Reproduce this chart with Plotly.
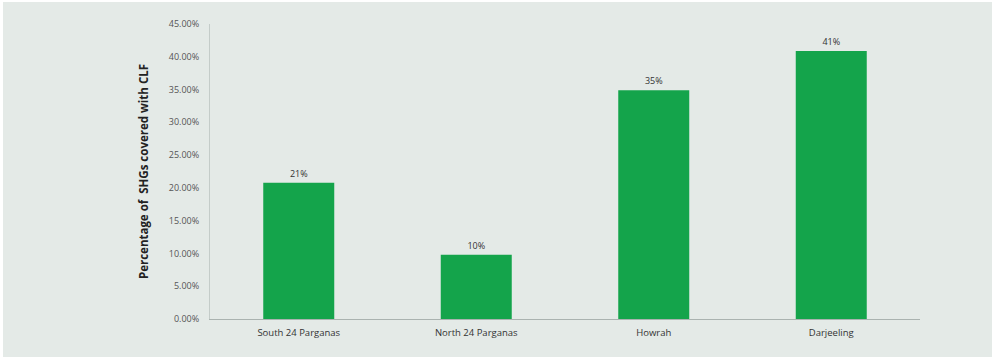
import plotly.graph_objects as go

categories = ["South 24 Parganas", "North 24 Parganas", "Howrah", "Darjeeling"]
values = [20.8, 9.8, 34.9, 40.9]
labels = ["21%", "10%", "35%", "41%"]
tick_vals = [0, 5, 10, 15, 20, 25, 30, 35, 40, 45]
tick_text = ["0.00%", "5.00%", "10.00%", "15.00%", "20.00%", "25.00%", "30.00%", "35.00%", "40.00%", "45.00%"]

BG = "#e4eae7"
fig = go.Figure(go.Bar(
    x=categories, y=values, text=labels, textposition="outside",
    textfont=dict(size=9, color="#333333"),
    marker=dict(color="#14a44b", line=dict(width=0)),
    cliponaxis=False,
))
fig.update_layout(
    width=989, height=355,
    margin=dict(l=207, r=72, t=22, b=38),
    paper_bgcolor=BG, plot_bgcolor=BG,
    bargap=0.6,
    showlegend=False,
    font=dict(family="Open Sans, Liberation Sans, sans-serif", size=9, color="#444444"),
    xaxis=dict(showline=True, linecolor="#aab3b0", linewidth=1, ticks="",
               tickfont=dict(size=9.5, color="#333333"), showgrid=False,
               ticklabelstandoff=5),
    yaxis=dict(range=[0, 45], tickvals=tick_vals, ticktext=tick_text,
               showline=True, linecolor="#c4ccc9", linewidth=1, showgrid=False,
               zeroline=False, ticks="", tickfont=dict(size=9, color="#555555"),
               ticklabelstandoff=8,
               title=dict(text="<b>Percentage of  SHGs covered with CLF</b>",
                          font=dict(size=11.5, color="#222222"), standoff=17)),
)
fig.write_html("out.html",
               post_script="document.body.style.margin='2px 0 0 3px';document.body.style.background='#ffffff';")
